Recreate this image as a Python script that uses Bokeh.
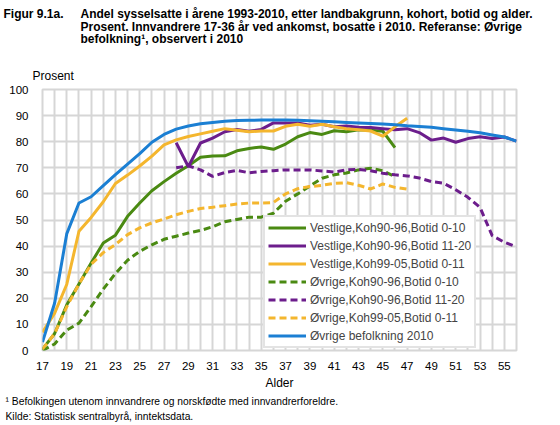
import numpy as np
from bokeh.plotting import figure
from bokeh.layouts import column
from bokeh.models import Range1d, FixedTicker, Div
from bokeh.embed import file_html
from bokeh.resources import INLINE

ages = list(range(17, 57))

# Øvrige befolkning 2010 (17-56)
ovrige_bef = [3.2, 18.2, 44.8, 56.5, 58.9, 63.2, 67.4, 71.4, 75.4, 79.8,
              82.8, 84.8, 86.0, 86.9, 87.4, 87.8, 88.1, 88.2, 88.3, 88.3,
              88.3, 88.2, 88.0, 87.8, 87.6, 87.4, 87.2, 87.0, 86.8, 86.5,
              86.1, 85.8, 85.5, 85.0, 84.5, 84.0, 83.4, 82.6, 81.8, 80.2]

N = None
# Vestlige,Koh90-96,Botid 0-10 (17-46)
vest_90_010 = [0.5, 6.5, 17.5, 25.5, 33.5, 41.2, 44.2, 51.4, 56.5, 61.2,
               64.7, 67.9, 70.8, 74.0, 74.5, 74.6, 76.5, 77.4, 78.0, 77.1,
               79.1, 81.9, 83.5, 82.8, 84.2, 83.8, 84.6, 84.4, 84.0, 77.7,
               N, N, N, N, N, N, N, N, N, N]
# Vestlige,Koh90-96,Botid 11-20 (28-56)
vest_90_1120 = [N, N, N, N, N, N, N, N, N, N, N,
                79.6, 70.4, 79.5, 81.4, 83.8, 84.7, 84.0, 84.7, 87.2, 87.2,
                87.2, 86.3, 86.7, 85.7, 86.0, 85.5, 85.4, 85.0, 84.6, 85.0,
                83.5, 80.6, 81.4, 79.8, 81.2, 81.9, 81.2, 81.8, 80.2]
# Vestlige,Koh99-05,Botid 0-11 (17-47)
vest_99_011 = [7.0, 14.3, 25.4, 45.7, 51.0, 57.0, 64.0, 67.2, 70.7, 74.5,
               78.8, 80.7, 82.0, 83.0, 84.0, 85.0, 84.4, 83.8, 84.1, 84.1,
               85.9, 86.7, 85.9, 86.7, 85.7, 85.0, 84.6, 84.1, 82.1, 85.7,
               89.0, N, N, N, N, N, N, N, N, N]
# Øvrige,Koh90-96,Botid 0-10 (17-46)
ovr_90_010 = [0.0, 2.5, 7.8, 10.5, 16.8, 23.5, 29.5, 34.6, 38.0, 40.5,
              42.6, 43.8, 45.0, 46.0, 47.4, 49.3, 50.2, 51.1, 51.1, 52.6,
              57.2, 60.0, 63.0, 66.0, 67.3, 68.0, 69.2, 69.8, 68.9, 66.6,
              N, N, N, N, N, N, N, N, N, N]
# Øvrige,Koh90-96,Botid 11-20 (28-56)
ovr_90_1120 = [N, N, N, N, N, N, N, N, N, N, N,
               70.0, 70.8, 69.2, 66.7, 68.2, 69.0, 68.1, 68.6, 68.9, 69.2,
               69.2, 69.2, 68.8, 68.4, 69.2, 69.4, 68.9, 67.9, 67.3, 66.9,
               66.1, 64.7, 64.1, 61.6, 58.7, 54.8, 44.0, 41.5, 39.7]
# Øvrige,Koh99-05,Botid 0-11 (17-47)
ovr_99_011 = [0.5, 6.5, 16.8, 25.5, 33.0, 37.5, 40.6, 44.4, 47.0, 48.9,
              50.4, 52.0, 53.3, 54.4, 54.9, 55.5, 56.1, 56.5, 56.5, 56.7,
              60.0, 62.0, 62.8, 63.3, 64.0, 64.3, 63.3, 61.9, 63.8, 62.5,
              61.8, N, N, N, N, N, N, N, N, N]

x_tick_labels = list(range(17, 57, 2))
y_ticks = list(range(0, 101, 10))

figure_no = "Figur 9.1a."
title_lines = ["Andel sysselsatte i årene 1993-2010, etter landbakgrunn, kohort, botid og alder.",
               "Prosent. Innvandrere 17-36 år ved ankomst, bosatte i 2010. Referanse: Øvrige",
               "befolkning¹, observert i 2010"]
y_unit = "Prosent"
x_label = "Alder"
footnotes = ["¹ Befolkingen utenom innvandrere og norskfødte med innvandrerforeldre.",
             "Kilde: Statistisk sentralbyrå, inntektsdata."]

GREEN = "#4a8a12"
PURPLE = "#6c1d8c"
YELLOW = "#f4b62e"
BLUE = "#1b7fd3"
GRID = "#d6d6d6"
RULE = "#3f5787"
FONT = "Liberation Sans"

W, H = 560, 425
T1, RH, T2 = 54, 4, 27          # header: title text, rule, "Prosent"
MH = 307                        # main chart
FT = H - T1 - RH - T2 - MH - RH  # footer text


def rule_fig():
    f = figure(width=W, height=RH, output_backend="svg", toolbar_location=None,
               x_range=Range1d(0, 1), y_range=Range1d(0, 1),
               x_axis_type=None, y_axis_type=None,
               min_border=0, outline_line_color=None)
    f.grid.visible = False
    f.line([0, 1], [0.5, 0.5], line_color=RULE, line_width=3)
    return f


# ---------- header ----------
title_html = (
    f'<div style="position:relative;width:{W}px;height:{T1}px;font-family:\'{FONT}\';color:#000;">'
    f'<div style="position:absolute;left:3.5px;top:8px;font-weight:bold;font-size:12px;'
    f'line-height:12.5px;white-space:nowrap;">{figure_no}</div>'
    f'<div style="position:absolute;left:80.5px;top:8px;font-weight:bold;font-size:12px;'
    f'line-height:12.5px;white-space:nowrap;">{"<br>".join(title_lines)}</div>'
    f'</div>'
)
hd1 = Div(text=title_html, width=W, height=T1, margin=0)
hr1 = rule_fig()
unit_html = (
    f'<div style="position:relative;width:{W}px;height:{T2}px;font-family:\'{FONT}\';color:#000;">'
    f'<div style="position:absolute;left:32.5px;top:11px;font-size:12px;line-height:14px;'
    f'white-space:nowrap;">{y_unit}</div></div>'
)
hd2 = Div(text=unit_html, width=W, height=T2, margin=0)

# ---------- main chart ----------
p = figure(width=W, height=MH, output_backend="svg", toolbar_location=None,
           x_range=Range1d(17, 56), y_range=Range1d(0, 100),
           min_border_left=42, min_border_right=44,
           min_border_top=4, min_border_bottom=40)
p.xgrid.ticker = FixedTicker(ticks=ages)
p.ygrid.ticker = FixedTicker(ticks=y_ticks)
p.xgrid.grid_line_color = GRID
p.ygrid.grid_line_color = GRID
p.xgrid.grid_line_width = 2
p.ygrid.grid_line_width = 2
p.outline_line_color = GRID
p.outline_line_width = 2


def arr(v):
    return np.array([np.nan if a is None else a for a in v], dtype=float)


series = [
    (vest_90_010, "Vestlige,Koh90-96,Botid 0-10", GREEN, "solid"),
    (vest_90_1120, "Vestlige,Koh90-96,Botid 11-20", PURPLE, "solid"),
    (vest_99_011, "Vestlige,Koh99-05,Botid 0-11", YELLOW, "solid"),
    (ovr_90_010, "Øvrige,Koh90-96,Botid 0-10", GREEN, "7 4"),
    (ovr_90_1120, "Øvrige,Koh90-96,Botid 11-20", PURPLE, "7 4"),
    (ovr_99_011, "Øvrige,Koh99-05,Botid 0-11", YELLOW, "7 4"),
    (ovrige_bef, "Øvrige befolkning 2010", BLUE, "solid"),
]
for vals, name, col, dash in series:
    p.line(ages, arr(vals), line_color=col, line_width=3, line_dash=dash,
           legend_label=name)

p.xaxis.ticker = FixedTicker(ticks=x_tick_labels)
p.yaxis.ticker = FixedTicker(ticks=y_ticks)
for ax in (p.xaxis, p.yaxis):
    ax.axis_line_color = None
    ax.major_tick_line_color = None
    ax.minor_tick_line_color = None
    ax.major_label_text_font = FONT
    ax.major_label_text_font_size = "11.5px"
    ax.major_label_text_color = "#000000"
p.yaxis.major_label_standoff = 8
p.xaxis.major_label_standoff = 5
p.xaxis.axis_label = x_label
p.xaxis.axis_label_text_font = FONT
p.xaxis.axis_label_text_font_size = "12px"
p.xaxis.axis_label_text_font_style = "normal"
p.xaxis.axis_label_standoff = 3
p.xaxis.axis_label_text_color = "#000000"

lg = p.legend[0]
lg.location = (221, 2)
lg.label_text_font = FONT
lg.label_text_font_size = "12px"
lg.label_height = 15
lg.glyph_height = 15
lg.glyph_width = 38
lg.spacing = 3
lg.padding = 3
lg.margin = 0
lg.label_standoff = 4
lg.border_line_color = "#c8c8c8"
lg.border_line_width = 2
lg.background_fill_alpha = 1.0

# ---------- footer ----------
hr2 = rule_fig()
foot_html = (
    f'<div style="position:relative;width:{W}px;height:{FT}px;font-family:\'{FONT}\';color:#000;">'
    f'<div style="position:absolute;left:5.5px;top:-1px;font-size:10.3px;line-height:14.6px;'
    f'white-space:nowrap;">{footnotes[0]}<br>{footnotes[1]}</div>'
    f'</div>'
)
ft = Div(text=foot_html, width=W, height=FT, margin=0)

layout = column(hd1, hr1, hd2, p, hr2, ft, spacing=0)
open("out.html", "w").write(file_html(layout, INLINE))
